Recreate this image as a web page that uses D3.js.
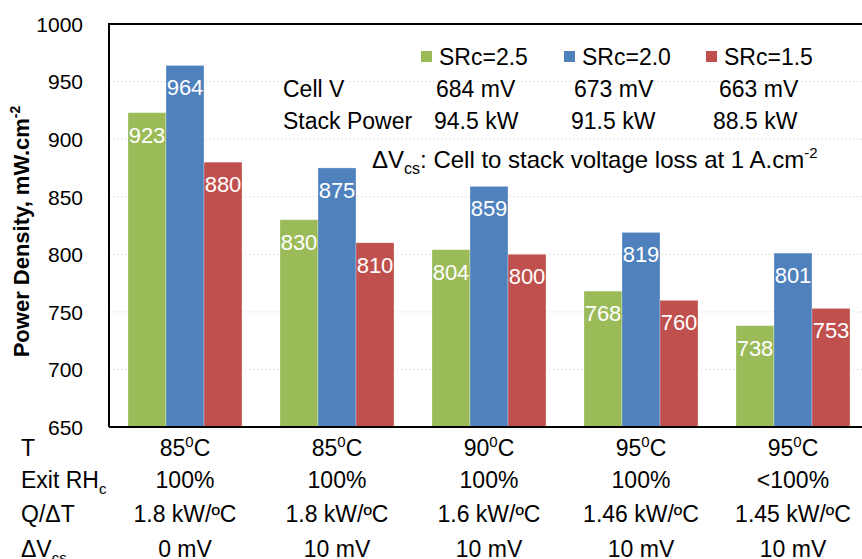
<!DOCTYPE html>
<html>
<head>
<meta charset="utf-8">
<script src="https://cdn.jsdelivr.net/npm/d3@7"></script>
<style>
  html, body { margin: 0; padding: 0; background: #fff; }
  svg { display: block; font-family: "Liberation Sans", Arial, sans-serif; }
</style>
</head>
<body>
<svg id="chart" width="862" height="559"></svg>
<script>
// Operating cases along the x axis (one group per case)
const cases = ["c1", "c2", "c3", "c4", "c5"];
// Series (cathode stoichiometry)
const seriesNames = ["SRc=2.5", "SRc=2.0", "SRc=1.5"];
const seriesColors = ["#9BBB59", "#4F81BD", "#C0504D"];
// Power density, mW.cm-2
const src25 = [923, 830, 804, 768, 738];
const src20 = [964, 875, 859, 819, 801];
const src15 = [880, 810, 800, 760, 753];
// Y axis ticks
const yTicks = [650, 700, 750, 800, 850, 900, 950, 1000];
// Per-series summary text
const cellV = ["684 mV", "673 mV", "663 mV"];
const stackPower = ["94.5 kW", "91.5 kW", "88.5 kW"];
// Condition table under the axis
const tempVals = ["85", "85", "90", "95", "95"];
const exitRH = ["100%", "100%", "100%", "100%", "<100%"];
const qdt = ["1.8 kW/ºC", "1.8 kW/ºC", "1.6 kW/ºC", "1.46 kW/ºC", "1.45 kW/ºC"];
const dvcs = ["0 mV", "10 mV", "10 mV", "10 mV", "10 mV"];

const seriesValues = [src25, src20, src15];

const svg = d3.select("#chart");
const plot = { left: 109, right: 869, top: 24, bottom: 427 };

const y = d3.scaleLinear().domain([650, 1000]).range([plot.bottom, plot.top]);
const x0 = d3.scaleBand().domain(cases).range([plot.left, plot.right])
  .paddingInner(0.25).paddingOuter(0.125);
const x1 = d3.scaleBand().domain(d3.range(seriesNames.length)).range([0, x0.bandwidth()]);

// dotted gridlines
svg.append("g")
  .selectAll("line")
  .data(yTicks.filter(t => t > 650 && t < 1000))
  .join("line")
  .attr("x1", plot.left).attr("x2", 862)
  .attr("y1", d => y(d)).attr("y2", d => y(d))
  .attr("stroke", "#d9d9d9").attr("stroke-width", 1)
  .attr("stroke-dasharray", "1.5,2.5");

// bars
const groups = svg.append("g")
  .selectAll("g")
  .data(cases)
  .join("g")
  .attr("transform", d => `translate(${x0(d)},0)`);

groups.selectAll("rect")
  .data((c, ci) => seriesValues.map((vals, si) => ({ si, v: vals[ci] })))
  .join("rect")
  .attr("x", d => x1(d.si))
  .attr("width", x1.bandwidth())
  .attr("y", d => y(d.v))
  .attr("height", d => y(650) - y(d.v))
  .attr("fill", d => seriesColors[d.si])
  .attr("stroke", "rgba(255,255,255,0.35)")
  .attr("stroke-width", 0.8);

groups.selectAll("text")
  .data((c, ci) => seriesValues.map((vals, si) => ({ si, v: vals[ci] })))
  .join("text")
  .attr("x", d => x1(d.si) + x1.bandwidth() / 2)
  .attr("y", d => y(d.v) + 30)
  .attr("text-anchor", "middle")
  .attr("fill", "#fff")
  .attr("font-size", 22)
  .text(d => d.v);

// frame: top, left, bottom
const frame = svg.append("g").attr("stroke", "#000").attr("stroke-width", 2).attr("fill", "none");
frame.append("path").attr("d", `M${plot.left},${plot.bottom}V${plot.top}H862`);
frame.append("path").attr("d", `M${plot.left},${plot.bottom}H862`);

// y axis labels
const yAxis = d3.axisLeft(y).tickValues(yTicks).tickSize(0).tickPadding(0).tickFormat(d3.format("d"));
const yg = svg.append("g").attr("transform", `translate(83,0)`).call(yAxis);
yg.select(".domain").remove();
yg.selectAll("text")
  .attr("font-size", 21)
  .attr("font-family", "Liberation Sans, Arial, sans-serif")
  .attr("fill", "#000")
  .attr("dy", "0.35em");

// y axis title
const yt = svg.append("text")
  .attr("transform", `translate(29,${(plot.top + plot.bottom) / 2 + 6}) rotate(-90)`)
  .attr("text-anchor", "middle")
  .attr("font-weight", "bold")
  .attr("font-size", 22);
yt.append("tspan").text("Power Density, mW.cm");
yt.append("tspan").attr("font-size", 14).attr("dy", -9).text("-2");

// legend
const legendX = [421, 564, 706];
const lg = svg.append("g");
seriesNames.forEach((name, i) => {
  lg.append("rect").attr("x", legendX[i]).attr("y", 51).attr("width", 11).attr("height", 11)
    .attr("fill", seriesColors[i]);
  lg.append("text").attr("x", legendX[i] + 18).attr("y", 65).attr("font-size", 23).text(name);
});

// summary rows
const rowFont = 23;
svg.append("text").attr("x", 283).attr("y", 97).attr("font-size", rowFont).text("Cell V");
svg.append("text").attr("x", 283).attr("y", 129).attr("font-size", rowFont).text("Stack Power");
const cellX = [436, 574, 719];
const powX = [434, 571, 713];
cellV.forEach((t, i) => svg.append("text").attr("x", cellX[i]).attr("y", 97).attr("font-size", rowFont).text(t));
stackPower.forEach((t, i) => svg.append("text").attr("x", powX[i]).attr("y", 129).attr("font-size", rowFont).text(t));

const note = svg.append("text").attr("x", 372).attr("y", 168).attr("font-size", 24);
note.append("tspan").text("ΔV");
note.append("tspan").attr("font-size", 16).attr("dy", 6).text("cs");
note.append("tspan").attr("dy", -6).text(": Cell to stack voltage loss at 1 A.cm");
note.append("tspan").attr("font-size", 15).attr("dy", -10).text("-2");

// condition table
const tableFont = 23;
const rowY = [456, 488, 522, 557];
const labels = svg.append("g").attr("font-size", tableFont);
labels.append("text").attr("x", 21).attr("y", rowY[0]).text("T");
const rh = labels.append("text").attr("x", 21).attr("y", rowY[1]);
rh.append("tspan").text("Exit RH");
rh.append("tspan").attr("font-size", 15).attr("dy", 6).text("c");
labels.append("text").attr("x", 21).attr("y", rowY[2]).text("Q/ΔT");
const dv = labels.append("text").attr("x", 21).attr("y", rowY[3]);
dv.append("tspan").text("ΔV");
dv.append("tspan").attr("font-size", 15).attr("dy", 6).text("cs");

const cx = d => x0(d) + x0.bandwidth() / 2;
const tg = svg.append("g").attr("font-size", tableFont).attr("text-anchor", "middle");
cases.forEach((c, i) => {
  const t = tg.append("text").attr("x", cx(c)).attr("y", rowY[0]);
  t.append("tspan").text(tempVals[i]);
  t.append("tspan").attr("font-size", 15).attr("dy", -9).text("0");
  t.append("tspan").attr("dy", 9).text("C");
  tg.append("text").attr("x", cx(c)).attr("y", rowY[1]).text(exitRH[i]);
  tg.append("text").attr("x", cx(c)).attr("y", rowY[2]).text(qdt[i]);
  tg.append("text").attr("x", cx(c)).attr("y", rowY[3]).text(dvcs[i]);
});
</script>
</body>
</html>
